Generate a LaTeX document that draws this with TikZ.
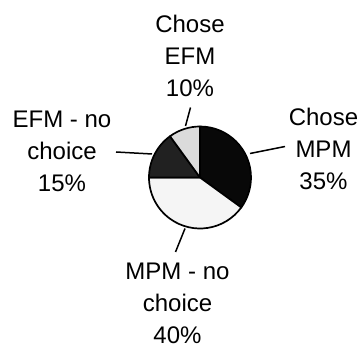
\documentclass[tikz,border=0pt]{standalone}
\usepackage{fontspec}
\setmainfont{Liberation Sans}
\begin{document}
\begin{tikzpicture}[x=1pt,y=1pt,
  slice/.style={draw=black,line width=1.7pt,line join=round},
  leader/.style={draw=black,line width=1.5pt},
  lbl/.style={align=center,anchor=base,inner sep=0pt,font=\fontsize{24}{32}\selectfont}]
\useasboundingbox (0,0) rectangle (359,-347);
\coordinate (c) at (200,-177.5);
\def\R{51pt}
% slices
\path[slice,fill=black!97] (c) -- ++(90:\R) arc[start angle=90,end angle=-36,radius=\R] -- cycle;
\path[slice,fill=black!4] (c) -- ++(-36:\R) arc[start angle=-36,end angle=-180,radius=\R] -- cycle;
\path[slice,fill=black!87] (c) -- ++(180:\R) arc[start angle=180,end angle=126,radius=\R] -- cycle;
\path[slice,fill=black!14] (c) -- ++(126:\R) arc[start angle=126,end angle=90,radius=\R] -- cycle;
% labels (anchored at the baseline of their last line)
\node[lbl] (efm) at (190,-97) {Chose\\EFM\\10\%};
\node[lbl] (efmno) at (62,-192) {EFM - no\\choice\\15\%};
\node[lbl] (mpm) at (323.5,-190) {Chose\\MPM\\35\%};
\node[lbl] (mpmno) at (177.5,-343.5) {MPM - no\\choice\\40\%};
% leader end points
\coordinate (a1) at (185.5,-126);  \coordinate (b1) at (190.5,-107.5);
\coordinate (a2) at (152,-154);    \coordinate (b2) at (116,-152);
\coordinate (a3) at (250,-153.5);  \coordinate (b3) at (285,-146.5);
\coordinate (a4) at (185,-228.5);  \coordinate (b4) at (175.5,-252);
\draw[leader] (a1) -- (b1);
\draw[leader] (a2) -- (b2);
\draw[leader] (a3) -- (b3);
\draw[leader] (a4) -- (b4);
\end{tikzpicture}
\end{document}
